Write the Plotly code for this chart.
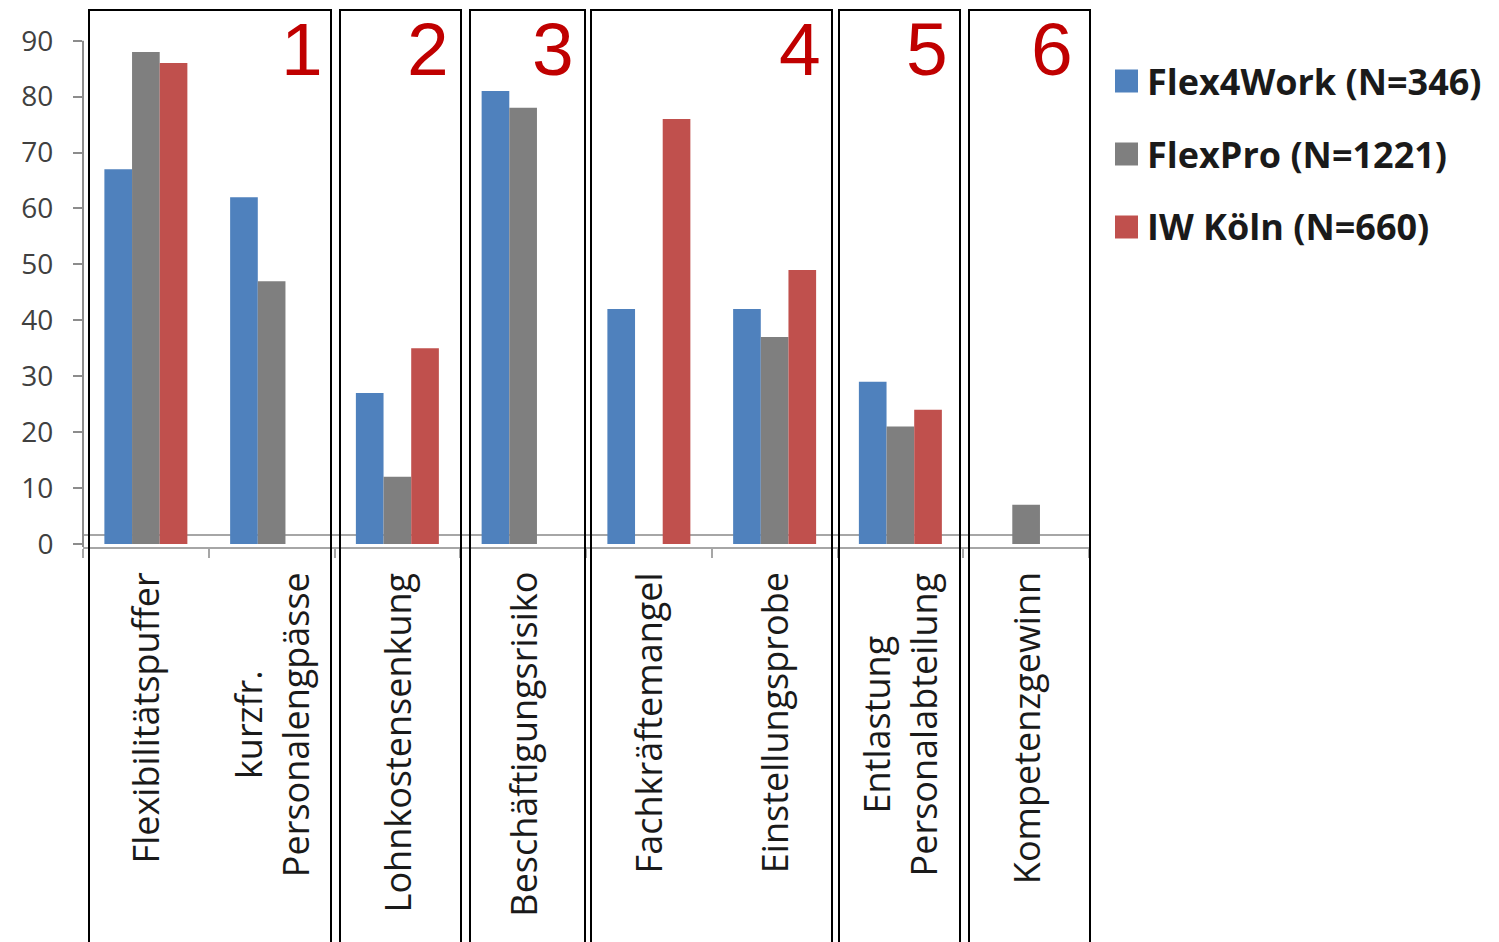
import plotly.graph_objects as go

# ---------------- data ----------------
categories = ["Flexibilitätspuffer", "kurzfr.<br>Personalengpässe", "Lohnkostensenkung",
              "Beschäftigungsrisiko", "Fachkräftemangel", "Einstellungsprobe",
              "Entlastung<br>Personalabteilung", "Kompetenzgewinn"]
series_names = ["Flex4Work (N=346)", "FlexPro (N=1221)", "IW Köln (N=660)"]
flex4work = [67, 62, 27, 81, 42, 42, 29, None]
flexpro = [88, 47, 12, 78, None, 37, 21, 7]
iw_koeln = [86, None, 35, None, 76, 49, 24, None]
series_values = [flex4work, flexpro, iw_koeln]
series_colors = ["#4F81BD", "#7F7F7F", "#C0504D"]
y_ticks = [0, 10, 20, 30, 40, 50, 60, 70, 80, 90]
group_labels = ["1", "2", "3", "4", "5", "6"]

# ---------------- layout geometry ----------------
W, H = 1499, 942
ML, MR, MT, MB = 83, 410, 10, 395
PW, PH = W - ML - MR, H - MT - MB
Y0, Y1 = -0.55, 95.5
ncat = len(categories)


def pxx(px):
    return (px - ML) / PW


def pxy(py):
    return (H - MB - py) / PH


fig = go.Figure()
xs = list(range(ncat))
for name, vals, col in zip(series_names, series_values, series_colors):
    fig.add_trace(go.Bar(x=xs, y=vals, name=name, marker_color=col,
                         marker_line_width=0, showlegend=False))

shapes = []
# y axis line (only up to 90)
shapes.append(dict(type="line", xref="paper", yref="y", x0=0, x1=0, y0=Y0, y1=90,
                   line=dict(color="#8C8C8C", width=2)))
# secondary gray baseline line
shapes.append(dict(type="line", xref="paper", yref="y", x0=0, x1=1, y0=1.6, y1=1.6,
                   line=dict(color="#A6A6A6", width=2), layer="below"))
# group boxes
box_px = [(89, 331), (340, 461), (470, 585), (591, 832), (839, 960), (969, 1090)]
for (a, b) in box_px:
    shapes.append(dict(type="rect", xref="paper", yref="paper",
                       x0=pxx(a), x1=pxx(b), y0=pxy(950), y1=pxy(10),
                       line=dict(color="black", width=2), fillcolor="rgba(0,0,0,0)"))

annotations = []
num_right_px = [325, 451, 576, 823, 950, 1075]
for lab, rpx in zip(group_labels, num_right_px):
    annotations.append(dict(text=lab, xref="paper", yref="paper", x=pxx(rpx), y=pxy(49),
                            xanchor="right", yanchor="middle", showarrow=False,
                            font=dict(family="Liberation Sans", size=75, color="#C00000")))

for i, lab in enumerate(categories):
    annotations.append(dict(text=lab, xref="x", yref="paper", x=i, y=pxy(570),
                            xanchor="center", yanchor="top", textangle=-90, align="center",
                            showarrow=False,
                            font=dict(family="Open Sans", size=36, color="#1A1A1A")))

# legend (manual)
leg_rows_py = [81, 154, 227]
for name, col, cy in zip(series_names, series_colors, leg_rows_py):
    shapes.append(dict(type="rect", xref="paper", yref="paper",
                       x0=pxx(1115), x1=pxx(1138), y0=pxy(cy + 11.5), y1=pxy(cy - 11.5),
                       line=dict(width=0), fillcolor=col))
    annotations.append(dict(text=name, xref="paper", yref="paper", x=pxx(1145), y=pxy(cy),
                            xanchor="left", yanchor="middle", showarrow=False,
                            font=dict(family="Open Sans", size=36, color="#1A1A1A", weight="bold")))

bounds = [i - 0.5 for i in range(ncat + 1)]
fig.update_layout(
    width=W, height=H,
    margin=dict(l=ML, r=MR, t=MT, b=MB),
    paper_bgcolor="white", plot_bgcolor="white",
    barmode="group", bargap=0.34, bargroupgap=0,
    showlegend=False,
    shapes=shapes, annotations=annotations,
    xaxis=dict(range=[-0.5, ncat - 0.5], tickmode="array", tickvals=bounds,
               showticklabels=False, showgrid=False, zeroline=False,
               showline=True, linecolor="#A6A6A6", linewidth=2,
               ticks="outside", ticklen=9, tickcolor="#A6A6A6", tickwidth=2),
    yaxis=dict(range=[Y0, Y1], tickmode="array", tickvals=y_ticks,
               showgrid=False, zeroline=False, showline=False,
               ticks="outside", ticklen=9, tickcolor="#8C8C8C", tickwidth=2,
               ticklabelstandoff=14,
               tickfont=dict(family="Open Sans", size=28, color="#404040")),
)

fig.write_html("out.html")
